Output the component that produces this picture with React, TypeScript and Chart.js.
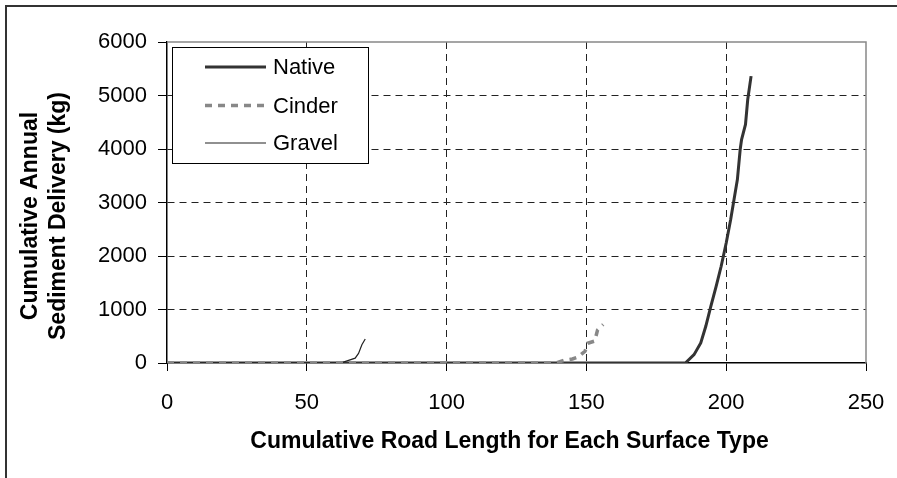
import React, { useEffect, useRef } from 'react';
import { Chart, registerables } from 'chart.js';

Chart.register(...registerables);

// ---- data ----
const nativeX = [0, 185.4, 188.5, 190.9, 192.7, 194.5, 196.4, 198.2, 200.0, 201.6, 202.8, 204.0, 205.0, 205.5, 206.9, 207.7, 208.9];
const nativeY = [0, 0, 156, 374, 686, 1060, 1434, 1808, 2244, 2681, 3055, 3429, 3990, 4177, 4458, 4925, 5362];
const cinderX = [0, 139, 142, 145, 147, 149.5, 150.5, 153, 154, 156];
const cinderY = [0, 0, 50, 75, 110, 220, 370, 410, 620, 720];
const gravelX = [0, 62, 64.4, 67.3, 68.5, 69.7, 70.9];
const gravelY = [0, 0, 40, 90, 180, 340, 450];

const seriesLabels = ['Native', 'Cinder', 'Gravel'];
const xTicks = [0, 50, 100, 150, 200, 250];
const yTicks = [0, 1000, 2000, 3000, 4000, 5000, 6000];
const xTitle = 'Cumulative Road Length for Each Surface Type';
const yTitle = ['Cumulative Annual', 'Sediment Delivery (kg)'];

const FONT = 'Liberation Sans, Arial, sans-serif';

const toPts = (xs: number[], ys: number[]) => xs.map((x, i) => ({ x, y: ys[i] }));

const overlayPlugin = {
  id: 'overlay',
  beforeDatasetsDraw(chart: any) {
    const { ctx, chartArea: a } = chart;
    ctx.save();
    ctx.strokeStyle = '#888';
    ctx.lineWidth = 1.5;
    ctx.beginPath();
    ctx.moveTo(a.left, a.top);
    ctx.lineTo(a.right, a.top);
    ctx.lineTo(a.right, a.bottom);
    ctx.stroke();
    ctx.restore();
  },
  afterDraw(chart: any) {
    const { ctx, chartArea: a } = chart;
    ctx.save();
    // axis titles
    ctx.fillStyle = '#000';
    ctx.font = `bold 23px ${FONT}`;
    ctx.textAlign = 'center';
    ctx.textBaseline = 'middle';
    ctx.fillText(xTitle, (a.left + a.right) / 2 - 7, 442);
    ctx.save();
    ctx.translate(31, 216);
    ctx.rotate(-Math.PI / 2);
    ctx.fillText(yTitle[0], 0, 0);
    ctx.fillText(yTitle[1], 0, 28);
    ctx.restore();

    // legend
    const bx = 172, by = 47, bw = 196, bh = 116;
    ctx.fillStyle = '#fff';
    ctx.fillRect(bx, by, bw, bh);
    ctx.strokeStyle = '#000';
    ctx.lineWidth = 1;
    ctx.strokeRect(bx + 0.5, by + 0.5, bw, bh);
    const rows = [67, 105.5, 143];
    chart.data.datasets.forEach((ds: any, i: number) => {
      const y = rows[i];
      ctx.save();
      ctx.strokeStyle = ds.borderColor;
      ctx.lineWidth = ds.borderWidth;
      ctx.setLineDash(ds.borderDash || []);
      ctx.beginPath();
      ctx.moveTo(205, y);
      ctx.lineTo(266, y);
      ctx.stroke();
      ctx.restore();
      ctx.fillStyle = '#000';
      ctx.font = `22px ${FONT}`;
      ctx.textAlign = 'left';
      ctx.textBaseline = 'middle';
      ctx.fillText(ds.label, 273, y + 1);
    });
    ctx.restore();
  },
};

export default function App() {
  const ref = useRef<HTMLCanvasElement | null>(null);

  useEffect(() => {
    if (!ref.current) return;
    const chart = new Chart(ref.current, {
      type: 'line',
      data: {
        datasets: [
          {
            label: seriesLabels[0],
            data: toPts(nativeX, nativeY),
            borderColor: '#333333',
            borderWidth: 3,
            pointRadius: 0,
            tension: 0,
            order: 2,
          },
          {
            label: seriesLabels[1],
            data: toPts(cinderX, cinderY),
            borderColor: '#888888',
            borderWidth: 3.5,
            borderDash: [7, 6],
            pointRadius: 0,
            tension: 0,
            order: 0,
          },
          {
            label: seriesLabels[2],
            data: toPts(gravelX, gravelY),
            borderColor: '#222222',
            borderWidth: 1.2,
            pointRadius: 0,
            tension: 0,
            order: 1,
          },
        ],
      },
      options: {
        animation: false,
        responsive: false,
        parsing: false as any,
        layout: { padding: { top: 42, right: 31, left: 0, bottom: 0 } },
        plugins: { legend: { display: false }, tooltip: { enabled: false }, title: { display: false } },
        scales: {
          x: {
            type: 'linear',
            min: 0,
            max: 250,
            afterBuildTicks: (s: any) => { s.ticks = xTicks.map((v) => ({ value: v })); },
            afterFit: (s: any) => { s.height = 115; s.paddingLeft = 0; s.paddingRight = 0; },
            ticks: { color: '#000', font: { family: FONT, size: 22 }, padding: 19, maxRotation: 0, callback: (v: any) => String(v) },
            grid: {
              color: (c: any) => (c.tick && (c.tick.value === 0 || c.tick.value === 250) ? 'rgba(0,0,0,0)' : '#222'),
              lineWidth: 1,
              tickColor: '#000',
              tickLength: 8,
              drawTicks: true,
            },
            border: { display: true, color: '#000', width: 1.5, dash: [7, 5] },
          },
          y: {
            type: 'linear',
            min: 0,
            max: 6000,
            afterBuildTicks: (s: any) => { s.ticks = yTicks.map((v) => ({ value: v })); },
            afterFit: (s: any) => { s.width = 167; s.paddingTop = 0; s.paddingBottom = 0; },
            ticks: { color: '#000', font: { family: FONT, size: 22 }, padding: 11, callback: (v: any) => String(v) },
            grid: {
              color: (c: any) => (c.tick && (c.tick.value === 0 || c.tick.value === 6000) ? 'rgba(0,0,0,0)' : '#222'),
              lineWidth: 1,
              tickColor: '#000',
              tickLength: 9,
              drawTicks: true,
            },
            border: { display: true, color: '#000', width: 1.5, dash: [7, 5] },
          },
        },
      },
      plugins: [overlayPlugin],
    } as any);
    return () => chart.destroy();
  }, []);

  return (
    <div style={{ position: 'absolute', left: 0, top: 0, width: 897, height: 478, overflow: 'hidden', background: '#fff' }}>
      <div style={{ position: 'absolute', left: 5, top: 5, width: 950, height: 520, border: '2px solid #333', boxSizing: 'border-box' }} />
      <canvas ref={ref} width={897} height={478} style={{ position: 'absolute', left: 0, top: 0, width: 897, height: 478 }} />
    </div>
  );
}
